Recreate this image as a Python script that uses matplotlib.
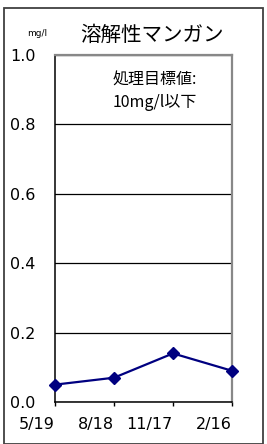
import matplotlib
matplotlib.use("Agg")
import matplotlib.pyplot as plt
from matplotlib.patches import Rectangle

plt.rcParams['font.family'] = ['Noto Sans CJK JP', 'DejaVu Sans']

categories = ["5/19", "8/18", "11/17", "2/16"]
values = [0.05, 0.07, 0.14, 0.09]
yticks = [0.0, 0.2, 0.4, 0.6, 0.8, 1.0]
ytick_labels = ["0.0", "0.2", "0.4", "0.6", "0.8", "1.0"]
title = "溶解性マンガン"
unit = "mg/l"
note = "処理目標値:\n10mg/l以下"

W, H = 267, 444
fig = plt.figure(figsize=(W / 100, H / 100), dpi=100)
fig.patch.set_facecolor("white")

# outer frame
fig.patches.append(Rectangle((3.5 / W, 0.0), (262.5 - 3.5) / W, (H - 8.5) / H,
                             transform=fig.transFigure, fill=False,
                             edgecolor="#404040", linewidth=1.3))

left, right, top, bottom = 55, 232, 55, 402
ax = fig.add_axes([left / W, 1 - bottom / H, (right - left) / W, (bottom - top) / H])

x = list(range(len(categories)))
ax.plot(x, values, color="#000080", linewidth=1.6, marker="D", markersize=6,
        markerfacecolor="#000080", markeredgecolor="#000080", clip_on=False, zorder=5)

ax.set_xlim(0, len(categories) - 1)
ax.set_ylim(0, 1.0)
ax.set_yticks(yticks)
ax.set_yticklabels(ytick_labels, fontsize=11.5, family="DejaVu Sans")
ax.set_xticks(x)
ax.set_xticklabels(categories, fontsize=11.5, family="DejaVu Sans", ha="right")
ax.tick_params(axis="y", length=0, pad=14)
ax.tick_params(axis="x", direction="out", length=3, width=1, color="black", pad=8)
for lbl in ax.get_xticklabels():
    lbl.set_horizontalalignment("right")

ax.grid(axis="y", color="black", linewidth=0.9)
ax.set_axisbelow(True)
for s in ["left", "bottom"]:
    ax.spines[s].set_color("black")
    ax.spines[s].set_linewidth(1.1)
for s in ["top", "right"]:
    ax.spines[s].set_color("#888888")
    ax.spines[s].set_linewidth(1.6)

fig.text(80 / W, 1 - 35 / H, title, fontsize=14.8, ha="left", va="center")
fig.text(37 / W, 1 - 33 / H, unit, fontsize=6.5, ha="center", va="center", family="DejaVu Sans")
fig.text(155 / W, 1 - 80 / H, "処理目標値:", fontsize=11.5, ha="center", va="center")
fig.text(155 / W, 1 - 102 / H, "10mg/l以下", fontsize=11.5, ha="center", va="center")

fig.savefig("out.png", dpi=100)
